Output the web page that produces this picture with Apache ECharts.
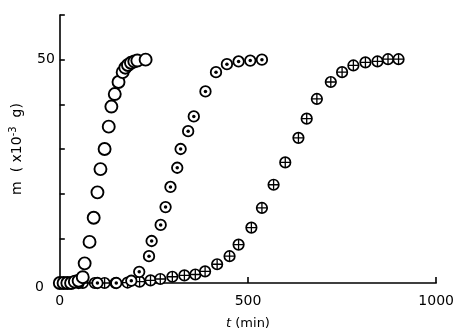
<!DOCTYPE html>
<html>
<head>
<meta charset="utf-8">
<script src="https://cdn.jsdelivr.net/npm/echarts@6/dist/echarts.min.js"></script>
<style>html,body{margin:0;padding:0;background:#fff}#c{width:457px;height:335px}</style>
</head>
<body>
<div id="c"></div>
<script>
// Data (t in min, m in 10^-3 g)
var openT = [0, 10, 20, 30, 40, 50, 61, 66, 79, 90, 100, 108, 119, 130, 137, 146, 156, 167, 174, 181, 189, 198, 206, 228];
var openM = [0, 0, 0, 0, 0.3, 0.5, 1.3, 4.4, 9.2, 14.6, 20.3, 25.5, 30, 35, 39.5, 42.3, 45, 47.2, 48.2, 48.8, 49.3, 49.6, 49.8, 50];

var dotT = [0, 50, 100, 150, 190, 211, 237, 244, 268, 281, 294, 312, 321, 341, 356, 387, 415, 444, 475, 506, 537];
var dotM = [0, 0, 0, 0, 0.5, 2.5, 6.0, 9.4, 13, 17, 21.5, 25.8, 30, 34, 37.3, 42.9, 47.2, 49, 49.6, 49.8, 50];

var crossT = [0, 34, 61, 93, 119, 148, 180, 212, 241, 267, 299, 331, 360, 386, 418, 451, 475, 509, 537, 568, 599, 634, 656, 683, 720, 750, 780, 812, 844, 872, 900];
var crossM = [0, 0, 0, 0, 0, 0, 0.1, 0.3, 0.6, 0.9, 1.4, 1.7, 1.9, 2.6, 4.2, 6.0, 8.6, 12.4, 16.8, 22, 27, 32.5, 36.8, 41.2, 45, 47.2, 48.7, 49.4, 49.6, 50.1, 50.1];

var xTickLabels = ['0', '500', '1000'];
var yTickLabels = ['0', '50'];

function zip(a, b) { return a.map(function (v, i) { return [v, b[i]]; }); }

var FONT = 'DejaVu Sans';
var chart = echarts.init(document.getElementById('c'), null, { renderer: 'canvas' });
var plusPath = 'path://M4.35,0H5.65V10H4.35Z M0,4.35H10V5.65H0Z';

chart.setOption({
  animation: false,
  backgroundColor: '#fff',
  grid: { left: 57, right: 19, top: 15, bottom: 47, containLabel: false },
  xAxis: {
    type: 'value', min: 0, max: 1000, interval: 500,
    name: '{i|t} (min)', nameLocation: 'middle', nameGap: 34,
    nameTextStyle: { fontFamily: FONT, fontSize: 13, color: '#000',
      rich: { i: { fontStyle: 'italic', fontFamily: FONT, fontSize: 13 } } },
    axisLine: { show: true, onZero: false, lineStyle: { color: '#000', width: 1.6 } },
    axisTick: { show: true, inside: true, length: 6, lineStyle: { color: '#000', width: 1.6 } },
    axisLabel: { color: '#000', fontFamily: FONT, fontSize: 14, margin: 11,
      formatter: function (v) { var s = String(v); return xTickLabels.indexOf(s) >= 0 ? s : ''; } },
    splitLine: { show: false }
  },
  yAxis: {
    type: 'value', min: 0, max: 60, interval: 10,
    name: 'm  ( x10{s|-3}  g)', nameLocation: 'middle', nameGap: 21, nameRotate: 90,
    nameTextStyle: { fontFamily: FONT, fontSize: 14, color: '#000',
      rich: { s: { fontSize: 10, fontFamily: FONT, verticalAlign: 'top', padding: [0, 0, 8, 0] } } },
    axisLine: { show: true, onZero: false, lineStyle: { color: '#000', width: 1.6 } },
    axisTick: { show: true, inside: true, length: 5, lineStyle: { color: '#000', width: 1.6 } },
    axisLabel: { color: '#000', fontFamily: FONT, fontSize: 14, margin: 5,
      formatter: function (v) {
        var s = String(v);
        if (yTickLabels.indexOf(s) < 0) return '';
        return s === '0' ? '{z|0}' : s;
      },
      rich: { z: { fontFamily: FONT, fontSize: 14, color: '#000', padding: [8, 11, 0, 0] } }
    },
    splitLine: { show: false }
  },
  series: [
    { type: 'scatter', data: zip(crossT, crossM), symbol: 'circle', symbolSize: 10.5, z: 2,
      itemStyle: { color: '#fff', borderColor: '#000', borderWidth: 1.7, opacity: 1 } },
    { type: 'scatter', data: zip(crossT, crossM), symbol: plusPath, symbolSize: 10, z: 3,
      itemStyle: { color: '#000', opacity: 1 } },
    { type: 'scatter', data: zip(dotT, dotM), symbol: 'circle', symbolSize: 10.5, z: 4,
      itemStyle: { color: '#fff', borderColor: '#000', borderWidth: 1.8, opacity: 1 } },
    { type: 'scatter', data: zip(dotT, dotM), symbol: 'circle', symbolSize: 3.5, z: 5,
      itemStyle: { color: '#000', opacity: 1 } },
    { type: 'scatter', data: zip(openT, openM), symbol: 'circle', symbolSize: 12, z: 6,
      itemStyle: { color: '#fff', borderColor: '#000', borderWidth: 1.9, opacity: 1 } }
  ]
});
</script>
</body>
</html>
